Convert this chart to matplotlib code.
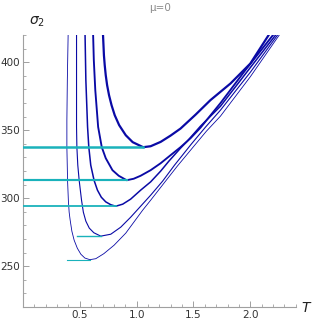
import numpy as np
import matplotlib.pyplot as plt
from matplotlib.ticker import MultipleLocator

# Curves sigma_2(T) (five branches, thick -> thin)
T1 = [0.704, 0.708, 0.712, 0.719, 0.728, 0.740, 0.757, 0.779, 0.807, 0.846, 0.904, 0.965, 1.057,
      1.123, 1.211, 1.298, 1.386, 1.518, 1.649, 1.825, 2.000, 2.161]
S1 = [419.9, 412.5, 405.1, 397.8, 390.4, 383.1, 375.7, 368.4, 361.0, 353.7, 346.3, 341.2, 337.5,
      338.2, 341.4, 346.0, 351.2, 361.4, 372.1, 384.3, 399.0, 419.9]

T2 = [0.617, 0.623, 0.636, 0.661, 0.693, 0.728, 0.787, 0.842, 0.912, 0.974, 1.035, 1.123, 1.211, 1.298,
      1.386, 1.474, 1.561, 1.737, 1.956, 2.199]
S2 = [419.9, 401.5, 379.4, 352.4, 337.5, 329.4, 320.6, 316.5, 313.2, 314.3, 316.5, 320.6, 325.7, 331.6,
      337.5, 344.1, 351.8, 369.9, 394.1, 419.9]

T3 = [0.546, 0.553, 0.568, 0.579, 0.596, 0.625, 0.655, 0.689, 0.728, 0.772, 0.816, 0.877, 0.947, 1.035,
      1.123, 1.211, 1.283, 1.386, 1.445, 1.561, 1.737, 1.982, 2.222]
S3 = [419.9, 386.8, 352.4, 337.5, 324.3, 313.2, 305.9, 300.7, 297.3, 295.2, 294.1, 295.6, 299.3, 305.9,
      312.0, 319.9, 327.2, 336.8, 341.9, 352.9, 367.6, 394.1, 419.9]

T4 = [0.471, 0.471, 0.471, 0.474, 0.482, 0.494, 0.515, 0.531, 0.553, 0.583, 0.623, 0.684, 0.772, 0.860,
      0.947, 1.035, 1.123, 1.228, 1.333, 1.480, 1.605, 1.737, 2.000, 2.239]
S4 = [419.9, 386.8, 352.4, 337.5, 324.3, 313.2, 298.5, 289.7, 283.1, 278.0, 274.6, 272.1, 273.5, 278.7,
      286.0, 294.1, 302.2, 312.5, 324.3, 339.7, 352.2, 364.7, 392.6, 419.9]

T5 = [0.397, 0.390, 0.386, 0.386, 0.392, 0.399, 0.406, 0.415, 0.430, 0.450, 0.478, 0.509, 0.544, 0.588,
      0.640, 0.711, 0.801, 0.904, 1.053, 1.123, 1.237, 1.357, 1.503, 1.614, 1.737, 2.000, 2.254]
S5 = [419.9, 386.8, 357.4, 337.5, 313.2, 298.5, 289.7, 283.8, 275.7, 269.1, 263.2, 258.8, 256.0, 254.8,
      255.5, 259.2, 265.4, 274.3, 291.2, 298.5, 310.7, 323.5, 338.2, 349.3, 360.3, 389.3, 419.9]

# horizontal (cyan) segments: level, start T, end T
lev = [337.5, 313.2, 294.1, 272.1, 254.8]
t_start = [0.0, 0.0, 0.0, 0.474, 0.386]
t_end = [1.057, 0.912, 0.816, 0.684, 0.588]

curves = [(T1, S1), (T2, S2), (T3, S3), (T4, S4), (T5, S5)]
widths = [1.6, 1.35, 1.1, 0.8, 0.6]

fig = plt.figure(figsize=(3.13, 3.24), dpi=100)
ax = fig.add_axes([0.0735, 0.0525, 0.8715, 0.8395])

for (t, s), lw in zip(curves, widths):
    ax.plot(t, s, color='#0a0aa5', lw=lw, solid_joinstyle='round', zorder=2)

for y, a, b, lw in zip(lev, t_start, t_end, widths):
    ax.plot([a, b], [y, y], color='#1ab2bb', lw=lw + 0.2, zorder=3)

ax.set_xlim(0, 2.4)
ax.set_ylim(220, 420)

for side in ['top', 'right']:
    ax.spines[side].set_visible(False)
for side in ['left', 'bottom']:
    ax.spines[side].set_color('#a0a0a0')
    ax.spines[side].set_linewidth(0.8)

ax.set_xticks([0.5, 1.0, 1.5, 2.0])
ax.set_xticklabels(['0.5', '1.0', '1.5', '2.0'])
ax.set_yticks([250, 300, 350, 400])
ax.xaxis.set_minor_locator(MultipleLocator(0.1))
ax.yaxis.set_minor_locator(MultipleLocator(10))
ax.tick_params(which='major', direction='in', length=4, width=0.7, color='#a0a0a0',
               labelsize=7.5, labelcolor='#333333', pad=2)
ax.tick_params(which='minor', direction='in', length=2.2, width=0.6, color='#a0a0a0')

fig.text(37 / 313, 1 - 22 / 324, r'$\sigma_2$', fontsize=10, ha='center', va='center', color='#222222')
fig.text(307 / 313, 1 - 308 / 324, r'$T$', fontsize=10, ha='center', va='center', color='#222222')
fig.text(160 / 313, 1 - 8 / 324, 'μ=0', fontsize=7.5, ha='center', va='center', color='#8a8a8a')

fig.savefig('out.png', dpi=100)
